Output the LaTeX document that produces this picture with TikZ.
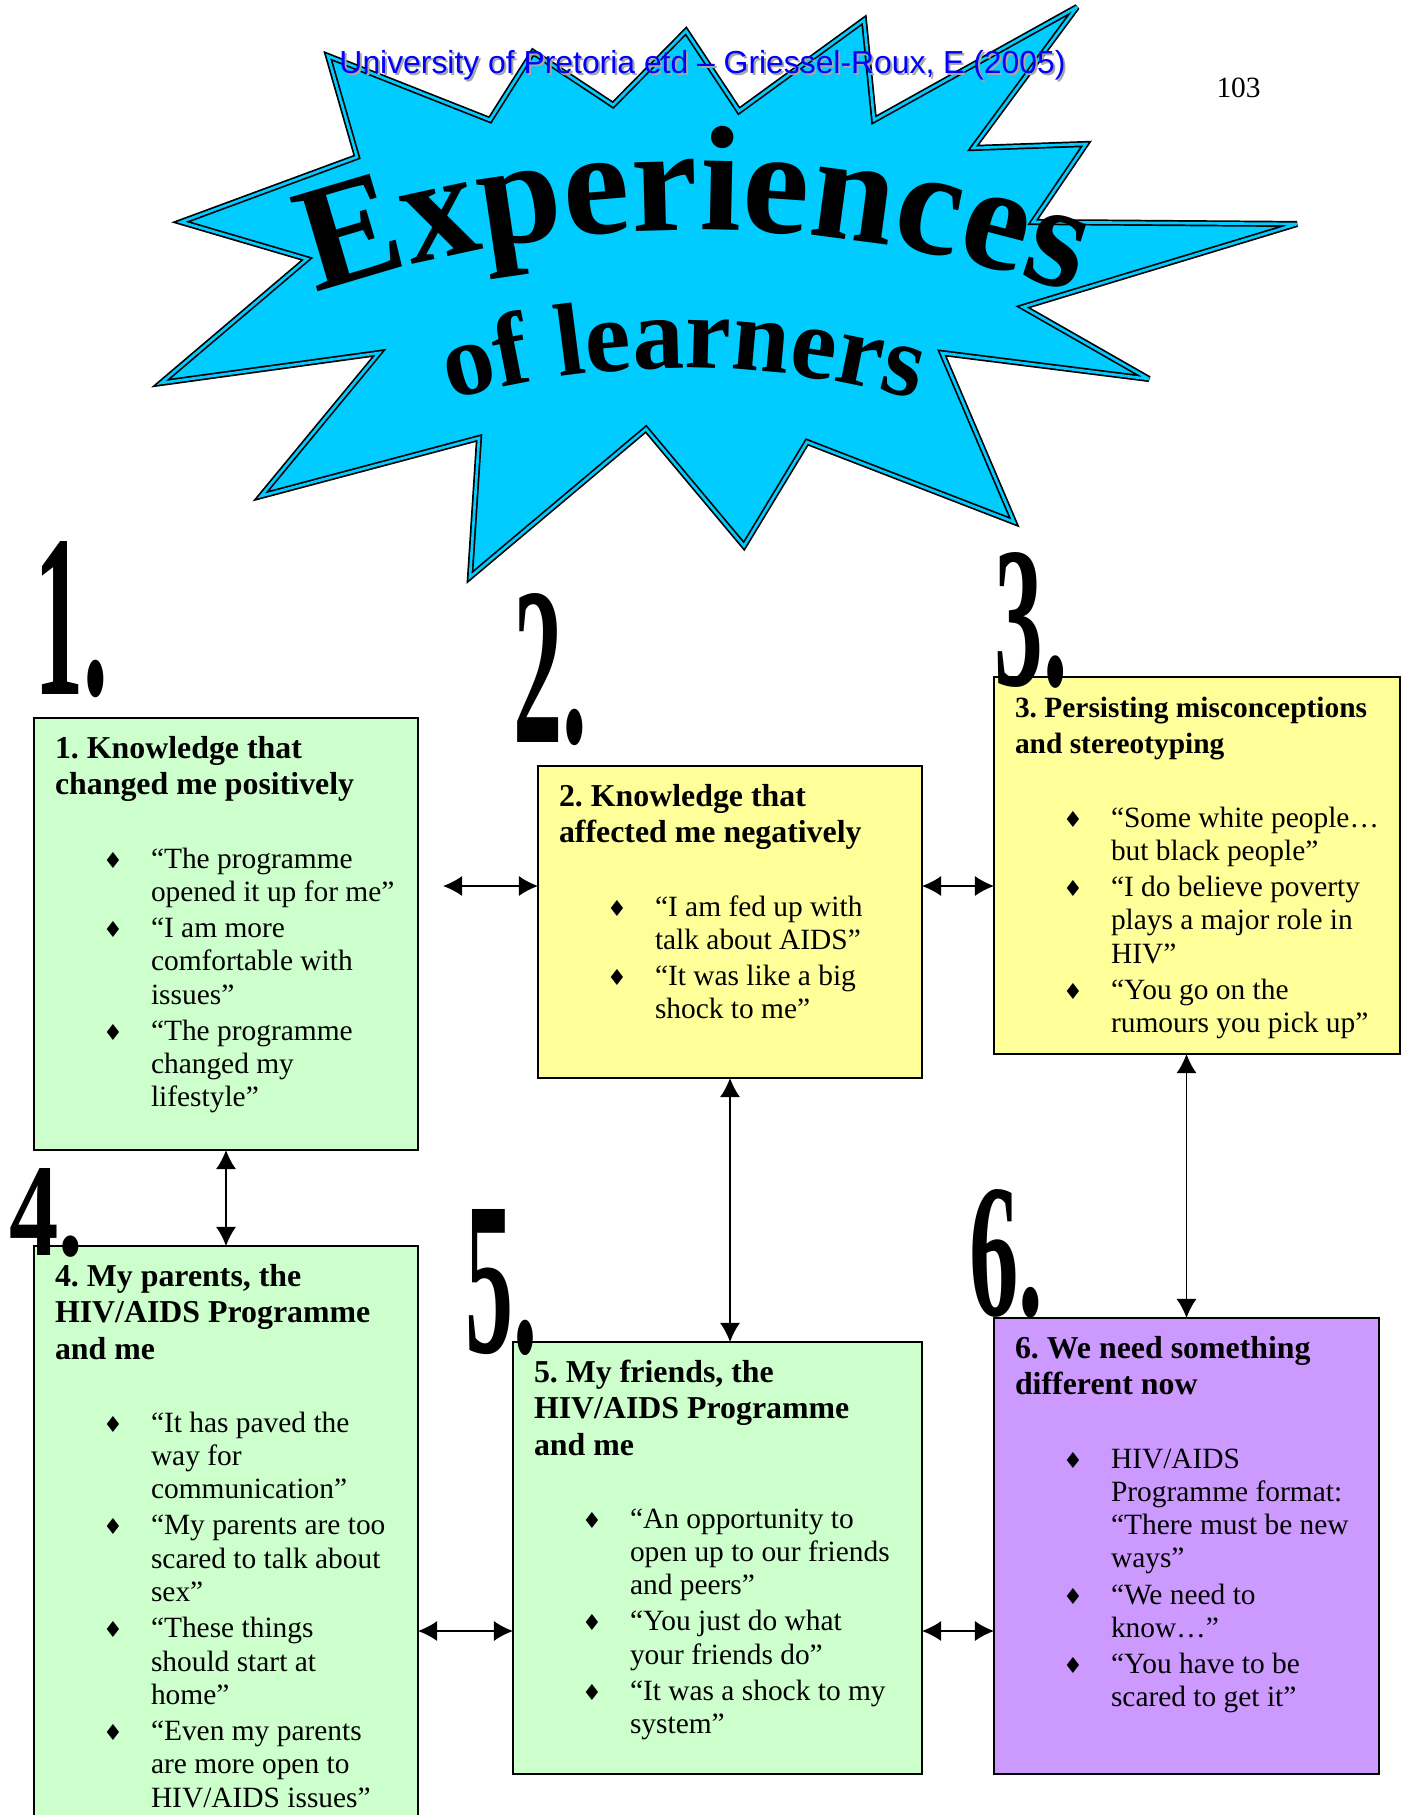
\documentclass[tikz,border=0pt]{standalone}
\usepackage{fontspec}
\usepackage{graphicx}
\setmainfont{Liberation Serif}
\newfontfamily\headfont{Liberation Sans}
\newfontfamily\bulfont{DejaVu Sans}
\usetikzlibrary{arrows.meta,%
                decorations.text}

\definecolor{starblue}{HTML}{00CCFF}
\definecolor{boxgreen}{HTML}{CCFFCC}
\definecolor{boxyellow}{HTML}{FFFF99}
\definecolor{boxpurple}{HTML}{CC99FF}
\definecolor{headblue}{HTML}{0000FF}

\newdimen\px \px=0.408pt

\newcommand{\ptitle}[2]{{\fontsize{#1}{14.7}\selectfont\bfseries\rule{0pt}{16.7pt}#2\par}\vspace{14.8pt}}
\newcommand{\pitem}[1]{\par\vspace{1.5pt}\hangindent=96\px\hangafter=1\noindent\hspace*{48\px}%
  \makebox[48\px][l]{\bulfont\fontsize{9}{9}\selectfont\char"2666}{\let\\\newline #1}}
\newcommand{\panel}[5][13]{\begin{minipage}[t][#3\px][t]{#2\px}\raggedright\frenchspacing\leftskip=21\px
  \ptitle{#1}{#4}\fontsize{12}{13.5}\selectfont #5\par\end{minipage}}
\newcommand{\bignum}[3]{\resizebox{#1\px}{#2\px}{\bfseries #3}}

\begin{document}
\begin{tikzpicture}[x=0.408pt,y=-0.408pt]
  \tikzset{stage/.style = {draw = black, line width = 0.75pt, anchor = north west,
                           inner sep = 0pt, outer sep = 0pt}}
  \tikzset{numeral/.style = {anchor = south west, inner sep = 0pt}}
  \tikzset{link/.style = {{Latex[length=7.8pt,width=8.2pt]}-{Latex[length=7.8pt,width=8.2pt]},
                          line width = 0.6pt}}
  \tikzset{burst/.style = {fill = starblue, draw = black, line width = 0.7pt,
                           double = starblue, double distance = 1.1pt, miter limit = 4}}
  \tikzset{head/.style = {anchor = base west, inner sep = 0pt,
                          font = \headfont\fontsize{13}{13}\selectfont}}
  \useasboundingbox (0,0) rectangle (1409,1815);
  \clip (0,0) rectangle (1409,1815);

  % the star
  \draw[burst] (328,56) -- (490,120) -- (533,52) -- (613,105) -- (686,31) -- (739,111)
    -- (864,20) -- (874,120) -- (1077,7) -- (973,148) -- (1086,144) -- (1033,222)
    -- (1297,224) -- (1023,307) -- (1149,379) -- (942,353) -- (1014,522) -- (807,442)
    -- (744,546) -- (646,429) -- (470,577) -- (479,438) -- (261,496) -- (379,353)
    -- (161,383) -- (307,259) -- (181,222) -- (357,157) -- cycle;
  \path[decorate, decoration = {text along path, text align = center,
        text = {|\fontsize{61}{61}\selectfont\bfseries|Experiences}}]
    (112.5,386.1) arc[start angle=-120, end angle=-60, radius=1165];
  \path[decorate, decoration = {text along path, text align = center,
        text = {|\fontsize{42}{42}\selectfont\bfseries|of learners}}]
    (253,483.2) arc[start angle=-120, end angle=-60, radius=860];

  \node[head, text = black!35] (shadow) at (341,76) {University of Pretoria etd – Griessel-Roux, E  (2005)};
  \node[head, text = headblue] (header) at (339,74) {University of Pretoria etd – Griessel-Roux, E  (2005)};
  \node[anchor = base west, inner sep = 0pt, font = \fontsize{12}{12}\selectfont] (pageno) at (1216,98) {103};

  % the six boxes
  \node[stage, fill = boxgreen] (b1) at (34,718) {\panel{384}{432}{1. Knowledge that\\changed me positively}{%
    \pitem{“The programme\\opened it up for me”}
    \pitem{“I am more\\comfortable with\\issues”}
    \pitem{“The programme\\changed my\\lifestyle”}}};
  \node[stage, fill = boxyellow] (b2) at (538,766) {\panel{384}{312}{2. Knowledge that\\affected me negatively}{%
    \pitem{“I am fed up with\\talk about AIDS”}
    \pitem{“It was like a big\\shock to me”}}};
  \node[stage, fill = boxyellow] (b3) at (994,677) {\panel[12]{406}{377}{3. Persisting misconceptions\\and stereotyping}{%
    \pitem{“Some white people…\\but black people”}
    \pitem{“I do believe poverty\\plays a major role in\\HIV”}
    \pitem{“You go on the\\rumours you pick up”}}};
  \node[stage, fill = boxgreen] (b4) at (34,1246) {\panel{384}{600}{4. My parents, the\\HIV/AIDS Programme\\and me}{%
    \pitem{“It has paved the\\way for\\communication”}
    \pitem{“My parents are too\\scared to talk about\\sex”}
    \pitem{“These things\\should start at\\home”}
    \pitem{“Even my parents\\are more open to\\HIV/AIDS issues”}}};
  \node[stage, fill = boxgreen] (b5) at (513,1342) {\panel{409}{432}{5. My friends, the\\HIV/AIDS Programme\\and me}{%
    \pitem{“An opportunity to\\open up to our friends\\and peers”}
    \pitem{“You just do what\\your friends do”}
    \pitem{“It was a shock to my\\system”}}};
  \node[stage, fill = boxpurple] (b6) at (994,1318) {\panel{385}{456}{6. We need something\\different now}{%
    \pitem{HIV/AIDS\\Programme format:\\“There must be new\\ways”}
    \pitem{“We need to\\know…”}
    \pitem{“You have to be\\scared to get it”}}};

  \node[numeral] (n1) at (34,698) {\bignum{74}{153}{1.}};
  \node[numeral] (n2) at (513,746) {\bignum{74}{149}{2.}};
  \node[numeral] (n3) at (994,689) {\bignum{73}{133}{3.}};
  \node[numeral] (n4) at (9,1258) {\bignum{74}{87}{4.}};
  \node[numeral] (n5) at (465,1356) {\bignum{72}{143}{5.}};
  \node[numeral] (n6) at (969,1319) {\bignum{74}{126}{6.}};

  \coordinate (row1) at (0,886);
  \coordinate (row2) at (0,1631);

  \draw[link, shorten <= 10.2pt] (b1.east |- row1) -- (b2.west |- row1);
  \draw[link] (b2.east |- row1) -- (b3.west |- row1);
  \draw[link] (b1.south) -- (b4.north);
  \draw[link] (b2.south) -- (b2.south |- b5.north);
  \draw[link] (b6.north |- b3.south) -- (b6.north);
  \draw[link] (b4.east |- row2) -- (b5.west |- row2);
  \draw[link] (b5.east |- row2) -- (b6.west |- row2);
\end{tikzpicture}
\end{document}
